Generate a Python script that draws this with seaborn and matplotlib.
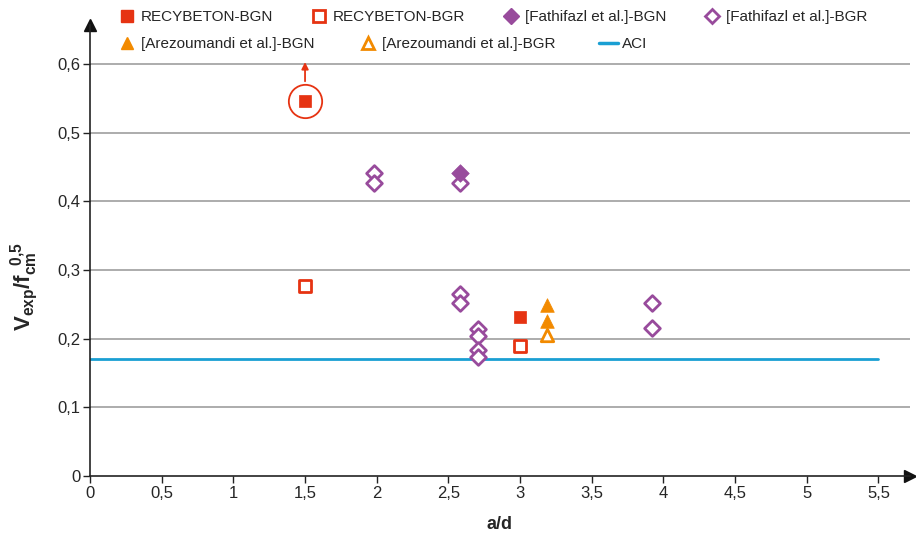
import numpy as np
import pandas as pd
import matplotlib
matplotlib.use("Agg")
import matplotlib.pyplot as plt
import seaborn as sns
from matplotlib.lines import Line2D

# data
recy_bgn_x = [1.5, 3.0]
recy_bgn_y = [0.547, 0.232]
recy_bgr_x = [1.5, 3.0]
recy_bgr_y = [0.277, 0.190]
fath_bgn_x = [2.58]
fath_bgn_y = [0.441]
fath_bgr_x = [1.98, 1.98, 2.58, 2.58, 2.58, 2.71, 2.71, 2.71, 2.71, 3.92, 3.92]
fath_bgr_y = [0.441, 0.427, 0.427, 0.265, 0.252, 0.214, 0.204, 0.183, 0.173, 0.252, 0.215]
arez_bgn_x = [3.19, 3.19]
arez_bgn_y = [0.249, 0.226]
arez_bgr_x = [3.19]
arez_bgr_y = [0.205]
aci_x = [0.0, 5.5]
aci_y = [0.17, 0.17]

x_ticks = [0, 0.5, 1, 1.5, 2, 2.5, 3, 3.5, 4, 4.5, 5, 5.5]
x_tick_labels = ['0', '0,5', '1', '1,5', '2', '2,5', '3', '3,5', '4', '4,5', '5', '5,5']
y_ticks = [0, 0.1, 0.2, 0.3, 0.4, 0.5, 0.6]
y_tick_labels = ['0', '0,1', '0,2', '0,3', '0,4', '0,5', '0,6']

RED = '#E63312'
PURPLE = '#984B9C'
ORANGE = '#F28A00'
BLUE = '#1A9FD3'

sns.set_theme(style='white')
plt.rcParams['font.family'] = ['Liberation Sans', 'DejaVu Sans']
plt.rcParams['mathtext.fontset'] = 'custom'
plt.rcParams['mathtext.rm'] = 'Liberation Sans:bold'
plt.rcParams['mathtext.it'] = 'Liberation Sans:bold'
plt.rcParams['mathtext.bf'] = 'Liberation Sans:bold'
plt.rcParams['mathtext.default'] = 'bf'

fig = plt.figure(figsize=(9.16, 5.33), dpi=100)
ax = fig.add_axes([90 / 916, 57 / 533, 820 / 916, 451 / 533])

for y in y_ticks[1:]:
    ax.axhline(y, color='#A6A6A6', lw=1.3, zorder=0)

sns.lineplot(x=aci_x, y=aci_y, color=BLUE, lw=2, ax=ax, zorder=1)

ms = 80
lw = 2
sns.scatterplot(x=recy_bgn_x, y=recy_bgn_y, marker='s', s=ms, color=RED, edgecolor=RED,
                linewidth=0.5, ax=ax, zorder=3)
sns.scatterplot(x=recy_bgr_x, y=recy_bgr_y, marker='s', s=ms * 0.8, color='white', edgecolor=RED,
                linewidth=lw, ax=ax, zorder=3)
sns.scatterplot(x=fath_bgr_x, y=fath_bgr_y, marker='D', s=ms * 0.8, color='white', edgecolor=PURPLE,
                linewidth=lw, ax=ax, zorder=3)
sns.scatterplot(x=fath_bgn_x, y=fath_bgn_y, marker='D', s=ms, color=PURPLE, edgecolor=PURPLE,
                linewidth=0.5, ax=ax, zorder=4)
sns.scatterplot(x=arez_bgn_x, y=arez_bgn_y, marker='^', s=ms * 1.2, color=ORANGE, edgecolor=ORANGE,
                linewidth=0.5, ax=ax, zorder=3)
sns.scatterplot(x=arez_bgr_x, y=arez_bgr_y, marker='^', s=ms, color='white', edgecolor=ORANGE,
                linewidth=lw, ax=ax, zorder=3)

# highlighted point: circle and upward arrow
ax.plot(recy_bgn_x[0], recy_bgn_y[0], 'o', ms=24, mfc='none', mec=RED, mew=1.3, zorder=3)
ax.annotate('', xy=(recy_bgn_x[0], 0.607), xytext=(recy_bgn_x[0], 0.571),
            arrowprops=dict(arrowstyle='-|>', color=RED, lw=1.3, mutation_scale=10))

ax.set_xlim(0, 5.72)
ax.set_ylim(0, 0.657)
ax.set_xticks(x_ticks)
ax.set_xticklabels(x_tick_labels)
ax.set_yticks(y_ticks)
ax.set_yticklabels(y_tick_labels)
ax.tick_params(axis='both', labelsize=12, length=5, width=1, color='#222222', direction='out',
               bottom=True, left=True, pad=2)

for s in ['top', 'right']:
    ax.spines[s].set_visible(False)
for s in ['left', 'bottom']:
    ax.spines[s].set_color('#222222')
    ax.spines[s].set_linewidth(1.2)
ax.plot(1, 0, '>', color='#111111', ms=8, transform=ax.transAxes, clip_on=False)
ax.plot(0, 1, '^', color='#111111', ms=8, transform=ax.transAxes, clip_on=False)

ax.set_xlabel('a/d', fontsize=13, fontweight='bold', labelpad=11)
ax.set_ylabel(r'$V_{exp}/f_{cm}^{\ \ 0{,}5}$', fontsize=16)
ax.yaxis.set_label_coords(-0.061, 0.42)

h1 = [
    Line2D([], [], ls='none', marker='s', ms=9, color=RED, mec=RED),
    Line2D([], [], ls='none', marker='s', ms=8, mfc='white', mec=RED, mew=2),
    Line2D([], [], ls='none', marker='D', ms=8, color=PURPLE, mec=PURPLE),
    Line2D([], [], ls='none', marker='D', ms=7.5, mfc='white', mec=PURPLE, mew=2),
]
l1 = ['RECYBETON-BGN', 'RECYBETON-BGR', '[Fathifazl et al.]-BGN', '[Fathifazl et al.]-BGR']
h2 = [
    Line2D([], [], ls='none', marker='^', ms=9, color=ORANGE, mec=ORANGE),
    Line2D([], [], ls='none', marker='^', ms=8.5, mfc='white', mec=ORANGE, mew=2),
    Line2D([], [], color=BLUE, lw=2.5),
]
l2 = ['[Arezoumandi et al.]-BGN', '[Arezoumandi et al.]-BGR', 'ACI']

leg_kw = dict(frameon=False, fontsize=11, handlelength=1.2, handletextpad=0.3,
              borderpad=0, borderaxespad=0)
fig.legend(h1, l1, loc='center left', bbox_to_anchor=(118 / 916, 1 - 17 / 533), ncol=4,
           columnspacing=2.4, **leg_kw)
fig.legend(h2, l2, loc='center left', bbox_to_anchor=(118 / 916, 1 - 44 / 533), ncol=3,
           columnspacing=2.9, **leg_kw)

fig.savefig('out.png', dpi=100)
